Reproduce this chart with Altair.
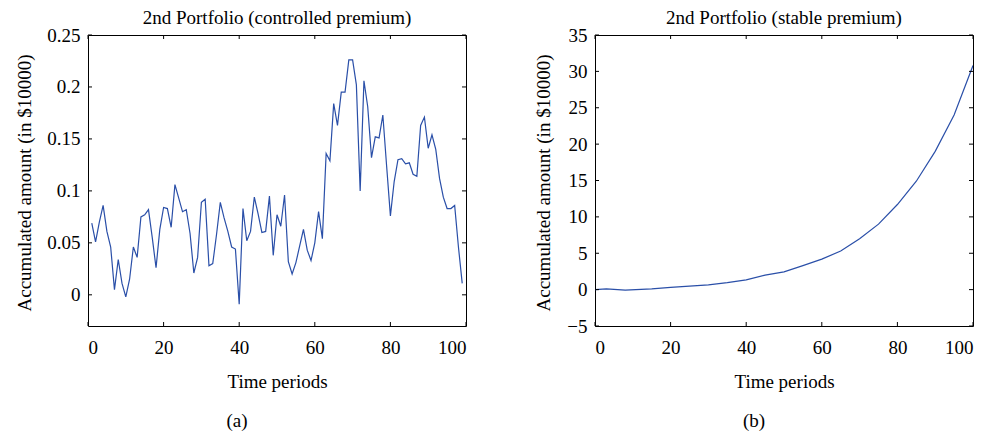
import altair as alt
import pandas as pd

# ---- data ----
t_a = list(range(1, 100))
v_a = [0.069, 0.051, 0.070, 0.086, 0.061, 0.046, 0.005, 0.034, 0.011, -0.002,
       0.015, 0.046, 0.036, 0.075, 0.077, 0.082, 0.055, 0.026, 0.063, 0.084,
       0.083, 0.065, 0.106, 0.093, 0.080, 0.082, 0.059, 0.021, 0.036, 0.089,
       0.092, 0.028, 0.030, 0.058, 0.089, 0.074, 0.061, 0.046, 0.044, -0.009,
       0.083, 0.052, 0.061, 0.094, 0.078, 0.060, 0.061, 0.095, 0.038, 0.077,
       0.066, 0.096, 0.032, 0.020, 0.031, 0.047, 0.063, 0.043, 0.033, 0.050,
       0.080, 0.054, 0.136, 0.129, 0.184, 0.163, 0.195, 0.195, 0.226, 0.226,
       0.202, 0.100, 0.206, 0.181, 0.132, 0.152, 0.151, 0.173, 0.124, 0.076,
       0.109, 0.130, 0.131, 0.126, 0.127, 0.116, 0.114, 0.163, 0.171, 0.141,
       0.154, 0.140, 0.112, 0.094, 0.083, 0.083, 0.086, 0.046, 0.011]

t_b = [0, 3, 8, 15, 20, 25, 30, 35, 40, 45, 50, 55, 60, 65, 70, 75, 80, 85, 90, 95, 100]
v_b = [0.0, 0.1, -0.08, 0.1, 0.3, 0.48, 0.65, 0.95, 1.35, 2.0, 2.45, 3.3, 4.2,
       5.3, 7.0, 9.0, 11.7, 14.9, 19.0, 24.0, 30.8]

x_ticks = [0, 20, 40, 60, 80, 100]
y_ticks_a = [0, 0.05, 0.1, 0.15, 0.2, 0.25]
y_ticks_b = [-5, 0, 5, 10, 15, 20, 25, 30, 35]

titles = ["2nd Portfolio (controlled premium)", "2nd Portfolio (stable premium)"]
captions = ["(a)", "(b)"]
x_title = "Time periods"
y_title = "Accumulated amount (in $10000)"

# ---- style ----
W, H = 378, 291
FONT = "Liberation Serif"
FS = 19
BLUE = "#2a4fa8"
TICK = 4


def panel(ts, vs, ydom, yticks, yfmt, title, caption, title_x, cap_dx):
    df = pd.DataFrame({"t": ts, "v": vs})
    xt = pd.DataFrame({"t": x_ticks})
    yt = pd.DataFrame({"v": yticks})
    xs = alt.Scale(domain=[0, 100], nice=False, zero=False)
    ys = alt.Scale(domain=ydom, nice=False, zero=False)
    xax = alt.Axis(values=x_ticks, title=x_title, labelPadding=12, labelOverlap=False,
                   titleX=W / 2, titleY=61, titleBaseline="alphabetic")
    yax = alt.Axis(values=yticks, format=yfmt, title=y_title, labelPadding=8,
                   labelOverlap=False, labelBound=False,
                   titleX=title_x, titleY=H / 2 + 2, titleAngle=270,
                   titleBaseline="alphabetic", titleAlign="center")
    X = alt.X("t:Q", scale=xs, axis=xax)
    Y = alt.Y("v:Q", scale=ys, axis=yax)

    line = alt.Chart(df).mark_line(color=BLUE, strokeWidth=1.2, clip=True).encode(x=X, y=Y)
    yl = alt.Chart(yt).mark_rule(color="black", strokeWidth=1).encode(
        y=Y, x=alt.value(0), x2=alt.value(TICK))
    yr = alt.Chart(yt).mark_rule(color="black", strokeWidth=1).encode(
        y=Y, x=alt.value(W - TICK), x2=alt.value(W))
    xb = alt.Chart(xt).mark_rule(color="black", strokeWidth=1).encode(
        x=X, y=alt.value(H - TICK), y2=alt.value(H))
    xtp = alt.Chart(xt).mark_rule(color="black", strokeWidth=1).encode(
        x=X, y=alt.value(0), y2=alt.value(TICK))
    cap = alt.Chart(pd.DataFrame({"c": [caption]})).mark_text(
        font=FONT, fontSize=FS, color="black", baseline="alphabetic", align="center"
    ).encode(text="c:N", x=alt.value(W / 2 + cap_dx), y=alt.value(H + 101))
    ttl = alt.Chart(pd.DataFrame({"c": [title]})).mark_text(
        font=FONT, fontSize=FS, color="black", baseline="alphabetic", align="center"
    ).encode(text="c:N", x=alt.value(W / 2), y=alt.value(-11))

    return alt.layer(line, yl, yr, xb, xtp, cap, ttl).properties(width=W, height=H)


left = panel(t_a, v_a, [-0.03, 0.25], y_ticks_a, ".2~f", titles[0], captions[0], -58, -40)
right = panel(t_b, v_b, [-5, 35], y_ticks_b, "d", titles[1], captions[1], -46, -30)

chart = alt.hconcat(left, right, spacing=66).properties(
    padding={"left": 6, "top": 0, "right": 5, "bottom": 0},
    background="white",
).configure_view(stroke="black", strokeWidth=1).configure_axis(
    labelFont=FONT, titleFont=FONT, labelFontSize=FS, titleFontSize=FS,
    labelColor="black", titleColor="black", titleFontWeight="normal",
    domain=False, ticks=False, tickSize=0, grid=False,
)

chart.save("out.html", embed_options={"renderer": "svg", "actions": False})
